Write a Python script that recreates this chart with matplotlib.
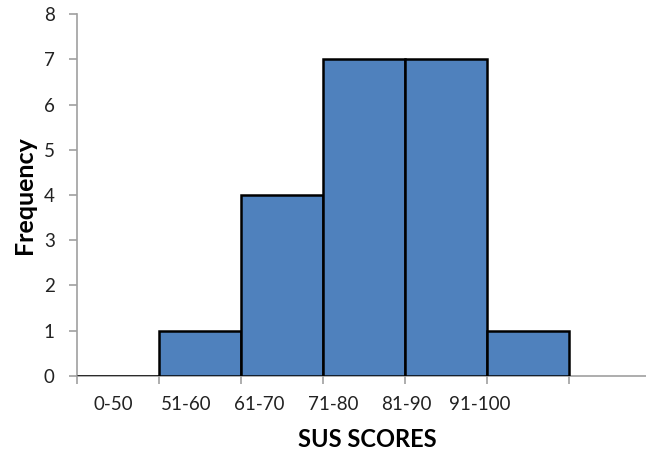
import numpy as np
import matplotlib
matplotlib.use("Agg")
import matplotlib.pyplot as plt
from matplotlib.transforms import blended_transform_factory

# SUS score histogram
bins = ["0-50", "51-60", "61-70", "71-80", "81-90", "91-100"]
freq = [0, 1, 4, 7, 7, 1]

plt.rcParams['font.family'] = ['Lato', 'DejaVu Sans']

fig = plt.figure(figsize=(6.46, 4.54), dpi=100)
ax = fig.add_axes([0.119, 0.172, 0.881, 0.797])

x = np.arange(len(bins))
ax.bar(x + 0.5, freq, width=1.0, color='#4F81BD', edgecolor='black', linewidth=1.8, zorder=3)

ax.set_xlim(0, 6.94)
ax.set_ylim(0, 8)
ax.set_yticks(range(0, 9))
ax.set_xticks(range(0, 7))
ax.set_xticklabels([])

for s in ['top', 'right']:
    ax.spines[s].set_visible(False)
for s in ['left', 'bottom']:
    ax.spines[s].set_color('#a0a0a0')
    ax.spines[s].set_linewidth(1.2)

ax.tick_params(axis='both', direction='out', length=6, color='#a0a0a0', width=1.2)
ax.tick_params(axis='y', labelsize=13.5, labelcolor='#222222', pad=10)

# category labels sit a little off the bar centres, as in the original
trans = blended_transform_factory(ax.transData, ax.transAxes)
for i, lab in enumerate(bins):
    ax.text(0.44 + 0.895 * i, -0.078, lab, transform=trans, ha='center', va='center',
            fontsize=13.5, color='#222222')

fig.text(0.568, 0.033, "SUS SCORES", ha='center', va='center', fontsize=17, fontweight='bold')
fig.text(0.038, 0.57, "Frequency", ha='center', va='center', rotation=90, fontsize=18, fontweight='bold')

fig.savefig("out.png", dpi=100)
